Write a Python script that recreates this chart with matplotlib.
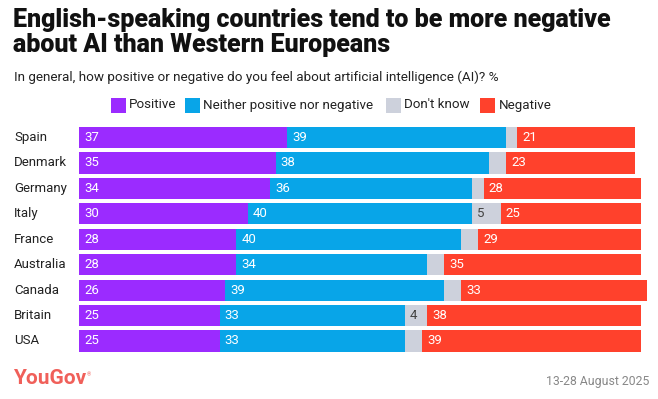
import matplotlib.pyplot as plt
from matplotlib.patches import Rectangle

countries = ["Spain", "Denmark", "Germany", "Italy", "France", "Australia", "Canada", "Britain", "USA"]
positive = [37, 35, 34, 30, 28, 28, 26, 25, 25]
neither = [39, 38, 36, 40, 40, 34, 39, 33, 33]
dont_know = [2, 3, 2, 5, 3, 3, 3, 4, 3]
negative = [21, 23, 28, 25, 29, 35, 33, 38, 39]

series = [
    ("Positive", positive, "#9B2BFF", "white"),
    ("Neither positive nor negative", neither, "#08A5E8", "white"),
    ("Don't know", dont_know, "#CDD1DC", "#444444"),
    ("Negative", negative, "#FF412C", "white"),
]

plt.rcParams['font.family'] = ['Roboto', 'DejaVu Sans']

W, H = 658, 399
fig = plt.figure(figsize=(W / 100, H / 100), dpi=100)


def fx(px):
    return px / W


def fy(py):
    return 1 - py / H


# axes: x from 79px, 5.62 px per percent
ax = fig.add_axes([fx(79), fy(353.7), 5.62 * 102 / W, (353.7 - 124.8) / H])
ax.set_xlim(0, 102)
ax.set_ylim(len(countries) - 0.5, -0.5)
ax.axis("off")

ypos = list(range(len(countries)))
left = [0] * len(countries)
for name, vals, color, tcolor in series:
    ax.barh(ypos, vals, left=left, height=0.83, color=color, linewidth=0)
    for i, v in enumerate(vals):
        # small "don't know" shares are left unlabelled
        if v >= 4:
            ax.text(left[i] + 0.9, i, str(v), va="center", ha="left",
                    color=tcolor, fontsize=9.5)
    left = [l + v for l, v in zip(left, vals)]

for i, c in enumerate(countries):
    ax.text(-65 / 5.62, i, c, va="center", ha="left", fontsize=9.5, color="#222222")

# title and subtitle
fig.text(fx(13), fy(27), "English-speaking countries tend to be more negative",
         ha="left", va="baseline", fontsize=18, fontweight="black", color="#111111")
fig.text(fx(13), fy(52), "about AI than Western Europeans",
         ha="left", va="baseline", fontsize=18, fontweight="black", color="#111111")
fig.text(fx(14), fy(77), "In general, how positive or negative do you feel about artificial intelligence (AI)? %",
         ha="left", va="center", fontsize=9.7, color="#222222")

# legend
leg_items = [(111, 129), (185, 203), (386, 404), (480, 499)]
for (sx, tx), (name, vals, color, tcolor) in zip(leg_items, series):
    fig.patches.append(Rectangle((fx(sx), fy(113)), 15 / W, 15 / H, transform=fig.transFigure,
                                 color=color, linewidth=0))
    fig.text(fx(tx), fy(105), name, ha="left", va="center", fontsize=9.6, color="#222222")

# footer
logo = fig.text(fx(13), fy(379), "YouGov", ha="left", va="center", fontsize=15,
                fontweight="bold", color="#F0605A")
fig.canvas.draw()
bb = logo.get_window_extent()
fig.text((bb.x1 + 1) / W, (bb.y1 - 3) / H, "®", ha="left", va="top", fontsize=4, color="#F0605A")
fig.text(fx(649), fy(382), "13-28 August 2025", ha="right", va="center", fontsize=8.8, color="#888888")

fig.savefig("out.png", dpi=100)
